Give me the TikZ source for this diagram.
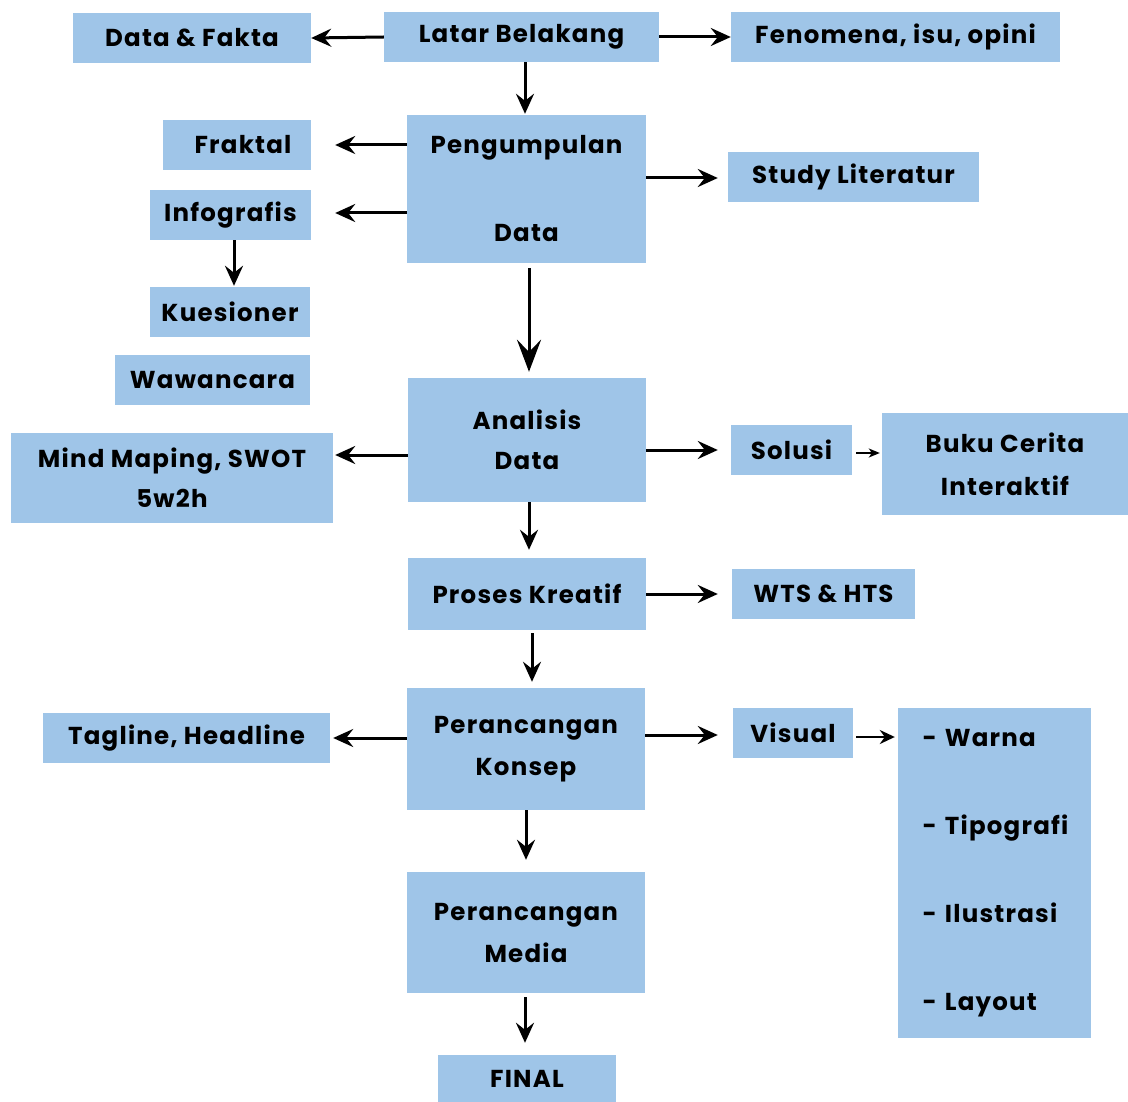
\documentclass[tikz,border=0pt]{standalone}
\usepackage{fontspec}
\setmainfont{Poppins}[LetterSpace=5]
\usetikzlibrary{arrows.meta}
\definecolor{boxblue}{HTML}{9FC5E8}
\tikzset{
  box/.style={fill=boxblue, inner sep=0pt, align=center,
    font=\fontsize{24.5}{30}\selectfont\bfseries},
  arr/.style={line width=3pt, -{Stealth[length=20pt,width=18pt,inset=7pt]}},
  bigarr/.style={line width=3pt, -{Stealth[length=32pt,width=24pt,inset=12pt]}},
  thinarr/.style={line width=1.4pt, -{Stealth[length=11pt,width=9pt,inset=3pt]}},
  midarr/.style={line width=2.4pt, -{Stealth[length=15pt,width=14pt,inset=5pt]}}
}
\begin{document}
\begin{tikzpicture}[x=1pt,y=-1pt]
\useasboundingbox (0,0) rectangle (1128,1102);

\node[box, minimum width=238pt, minimum height=50pt] (df) at (192,38) {Data \& Fakta};
\node[box, minimum width=275pt, minimum height=50pt] (lb) at (521.5,37) {Latar Belakang};
\node[box, minimum width=329pt, minimum height=50pt] (fe) at (895.5,37) {Fenomena, isu, opini};
\node[box, minimum width=239pt, minimum height=148pt] (pd) at (526.5,189) {Pengumpulan\\[58pt]Data};
\node[box, minimum width=148pt, minimum height=50pt] (fr) at (237,145) {\hspace*{12pt}Fraktal};
\node[box, minimum width=161pt, minimum height=50pt] (ig) at (230.5,215) {Infografis};
\node[box, minimum width=160pt, minimum height=50pt] (ks) at (230,312) {Kuesioner};
\node[box, minimum width=195pt, minimum height=50pt] (ww) at (212.5,380) {Wawancara};
\node[box, minimum width=251pt, minimum height=50pt] (sl) at (853.5,177) {Study Literatur};
\node[box, minimum width=238pt, minimum height=124pt] (ad) at (527,440) {Analisis\\[10pt]Data};
\node[box, minimum width=322pt, minimum height=90pt] (mm) at (172,478) {Mind Maping, SWOT\\[10pt]5w2h};
\node[box, minimum width=121pt, minimum height=50pt] (so) at (791.5,450) {Solusi};
\node[box, minimum width=246pt, minimum height=102pt] (bk) at (1005,464) {Buku Cerita\\[13pt]Interaktif};
\node[box, minimum width=238pt, minimum height=72pt] (pk) at (527,594) {Proses Kreatif};
\node[box, minimum width=183pt, minimum height=50pt] (wts) at (823.5,594) {WTS \& HTS};
\node[box, minimum width=238pt, minimum height=122pt] (kc) at (526,749) {Perancangan\\[12pt]Konsep};
\node[box, minimum width=287pt, minimum height=50pt] (tg) at (186.5,738) {Tagline, Headline};
\node[box, minimum width=120pt, minimum height=50pt] (vs) at (793,733) {Visual};
\node[box, minimum width=193pt, minimum height=330pt, align=left, text width=156pt, inner xsep=18.5pt] (wl) at (994.5,873)
  {\hspace*{6pt}- Warna\\[58pt]\hspace*{6pt}- Tipografi\\[58pt]\hspace*{6pt}- Ilustrasi\\[58pt]\hspace*{6pt}- Layout};
\node[box, minimum width=238pt, minimum height=121pt] (md) at (526,932.5) {Perancangan\\[12pt]Media};
\node[box, minimum width=178pt, minimum height=47pt] (fn) at (527,1078.5) {FINAL};

% connectors
\draw[arr] (lb.west) -- (df.east);
\draw[arr] (lb.east) -- (fe.west);
\draw[arr, shorten >=1pt] ([xshift=3.5pt]lb.south) -- ([xshift=3.5pt]lb.south |- pd.north);
\draw[arr, shorten >=24pt] (pd.west |- fr.east) -- (fr.east);
\draw[arr, shorten >=24pt] ([yshift=2pt]pd.west |- ig.east) -- ([yshift=2pt]ig.east);
\draw[arr, shorten >=10pt] ([yshift=-1pt]pd.east |- sl.west) -- ([yshift=-1pt]sl.west);
\draw[arr, shorten >=1pt] ([xshift=3.5pt]ig.south) -- ([xshift=3.5pt]ig.south |- ks.north);
\draw[bigarr, shorten <=5pt, shorten >=6pt] ([xshift=2.5pt]pd.south) -- ([xshift=2.5pt]pd.south |- ad.north);
\draw[arr, shorten >=2pt] ([yshift=-15pt]ad.west) -- ([yshift=-15pt]ad.west -| mm.east);
\draw[arr, shorten >=13pt] (ad.east |- so.west) -- (so.west);
\draw[thinarr, shorten <=4pt, shorten >=2pt] ([yshift=-3pt]so.east) -- ([yshift=-3pt]so.east -| bk.west);
\draw[arr, shorten >=8pt] ([xshift=2pt]ad.south) -- ([xshift=2pt]ad.south |- pk.north);
\draw[arr, shorten >=14pt] (pk.east) -- (wts.west);
\draw[arr, shorten <=3pt, shorten >=6pt] ([xshift=5pt]pk.south) -- ([xshift=5pt]pk.south |- kc.north);
\draw[arr, shorten >=3pt] (kc.west |- tg.east) -- (tg.east);
\draw[arr, shorten >=15pt] ([yshift=-2pt]kc.east |- vs.west) -- ([yshift=-2pt]vs.west);
\draw[midarr, shorten <=3pt, shorten >=3pt] ([yshift=-4pt]vs.east) -- ([yshift=-4pt]vs.east -| wl.west);
\draw[arr, shorten >=12pt] (kc.south) -- (md.north);
\draw[arr, shorten <=4pt, shorten >=12pt] ([xshift=-1pt]md.south) -- ([xshift=-1pt]md.south |- fn.north);
\end{tikzpicture}
\end{document}
